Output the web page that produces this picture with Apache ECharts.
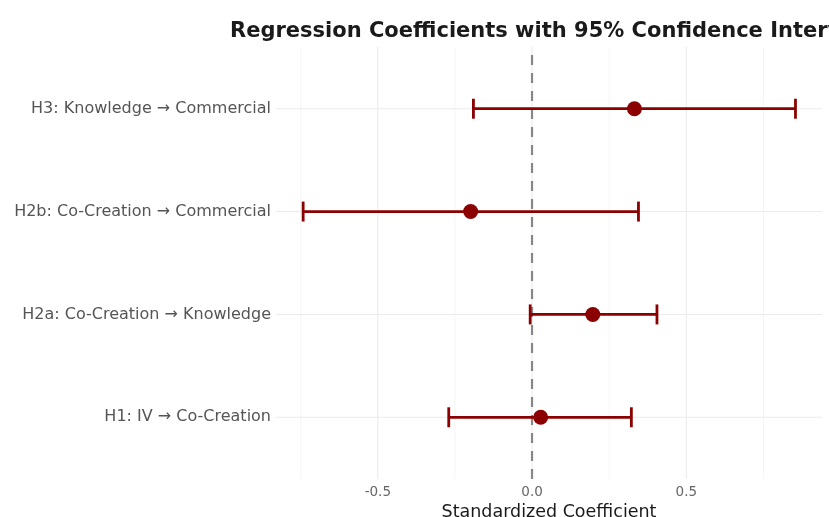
<!DOCTYPE html>
<html>
<head>
<meta charset="utf-8">
<script src="https://cdn.jsdelivr.net/npm/echarts@6/dist/echarts.min.js"></script>
<style>html,body{margin:0;padding:0;background:#fff}#c{width:829px;height:517px}</style>
</head>
<body>
<div id="c"></div>
<script>
const categories = ["H1: IV \u2192 Co-Creation", "H2a: Co-Creation \u2192 Knowledge", "H2b: Co-Creation \u2192 Commercial", "H3: Knowledge \u2192 Commercial"];
const estimates = [0.028, 0.197, -0.199, 0.332];
const lowerCI = [-0.27, -0.006, -0.742, -0.19];
const upperCI = [0.322, 0.405, 0.345, 0.854];
const xTicks = [-0.5, 0, 0.5];
const xMinorTicks = [-0.75, -0.25, 0.25, 0.75];
const tickLabels = ["-0.5", "0.0", "0.5"];

const chart = echarts.init(document.getElementById('c'), null, {renderer: 'canvas'});
const FONT = 'DejaVu Sans';
const ypos = categories.map((c, i) => i + 1);
const X_MIN = -0.83, X_MAX = 0.94, Y_MIN = 0.4, Y_MAX = 4.6;

// gridline items: [kind, value, isMajor]
const gridItems = [];
xMinorTicks.forEach(v => gridItems.push([0, v, 0]));
xTicks.forEach(v => gridItems.push([0, v, 1]));
ypos.forEach(v => gridItems.push([1, v, 1]));

chart.setOption({
  animation: false,
  title: {
    text: 'Regression Coefficients with 95% Confidence Intervals',
    left: 225, top: 16,
    textStyle: {fontFamily: FONT, fontWeight: 'bold', fontSize: 21, color: '#1a1a1a'}
  },
  grid: {left: 276, right: 7, top: 47, bottom: 38, containLabel: false, outerBoundsMode: 'none'},
  xAxis: {
    type: 'value', min: X_MIN, max: X_MAX,
    name: 'Standardized Coefficient', nameLocation: 'middle', nameGap: 20,
    nameTextStyle: {fontFamily: FONT, fontSize: 17.5, color: '#1a1a1a'},
    axisLine: {show: false}, axisTick: {show: false}, splitLine: {show: false},
    axisLabel: {
      customValues: xTicks, fontFamily: FONT, fontSize: 13.5, color: '#666', margin: 6,
      formatter: v => { const i = xTicks.findIndex(t => Math.abs(t - v) < 1e-9); return i >= 0 ? tickLabels[i] : ''; }
    }
  },
  yAxis: {
    type: 'value', min: Y_MIN, max: Y_MAX,
    axisLine: {show: false}, axisTick: {show: false}, splitLine: {show: false},
    axisLabel: {
      customValues: ypos, fontFamily: FONT, fontSize: 16, color: '#555', margin: 5,
      formatter: v => categories[Math.round(v) - 1] || ''
    }
  },
  series: [
    {
      type: 'custom', z: 0, silent: true,
      data: gridItems,
      renderItem: (params, api) => {
        const kind = api.value(0), v = api.value(1), major = api.value(2);
        let a, b;
        if (kind === 0) { a = api.coord([v, Y_MIN]); b = api.coord([v, Y_MAX]); }
        else { a = api.coord([X_MIN, v]); b = api.coord([X_MAX, v]); }
        return {type: 'line', shape: {x1: a[0], y1: a[1], x2: b[0], y2: b[1]},
          style: {stroke: major ? '#ebebeb' : '#f3f3f3', lineWidth: major ? 1.1 : 0.8}};
      }
    },
    {
      type: 'custom', z: 1, silent: true,
      data: [[0]],
      renderItem: (params, api) => {
        const a = api.coord([api.value(0), Y_MIN]);
        const b = api.coord([api.value(0), Y_MAX]);
        return {type: 'line', shape: {x1: a[0], y1: a[1], x2: b[0], y2: b[1]},
          style: {stroke: '#888888', lineWidth: 2.2, lineDash: [10, 8]}};
      }
    },
    {
      type: 'custom', z: 4,
      data: categories.map((c, i) => [lowerCI[i], upperCI[i], ypos[i]]),
      renderItem: (params, api) => {
        const lo = api.coord([api.value(0), api.value(2)]);
        const hi = api.coord([api.value(1), api.value(2)]);
        const h = 10;
        const st = {stroke: '#8B0000', lineWidth: 2.8};
        return {type: 'group', children: [
          {type: 'line', shape: {x1: lo[0], y1: lo[1], x2: hi[0], y2: hi[1]}, style: st},
          {type: 'line', shape: {x1: lo[0], y1: lo[1] - h, x2: lo[0], y2: lo[1] + h}, style: st},
          {type: 'line', shape: {x1: hi[0], y1: hi[1] - h, x2: hi[0], y2: hi[1] + h}, style: st}
        ]};
      }
    },
    {
      type: 'scatter', z: 5, symbolSize: 15,
      itemStyle: {color: '#8B0000', opacity: 1},
      data: categories.map((c, i) => [estimates[i], ypos[i]])
    }
  ]
});
</script>
</body>
</html>
